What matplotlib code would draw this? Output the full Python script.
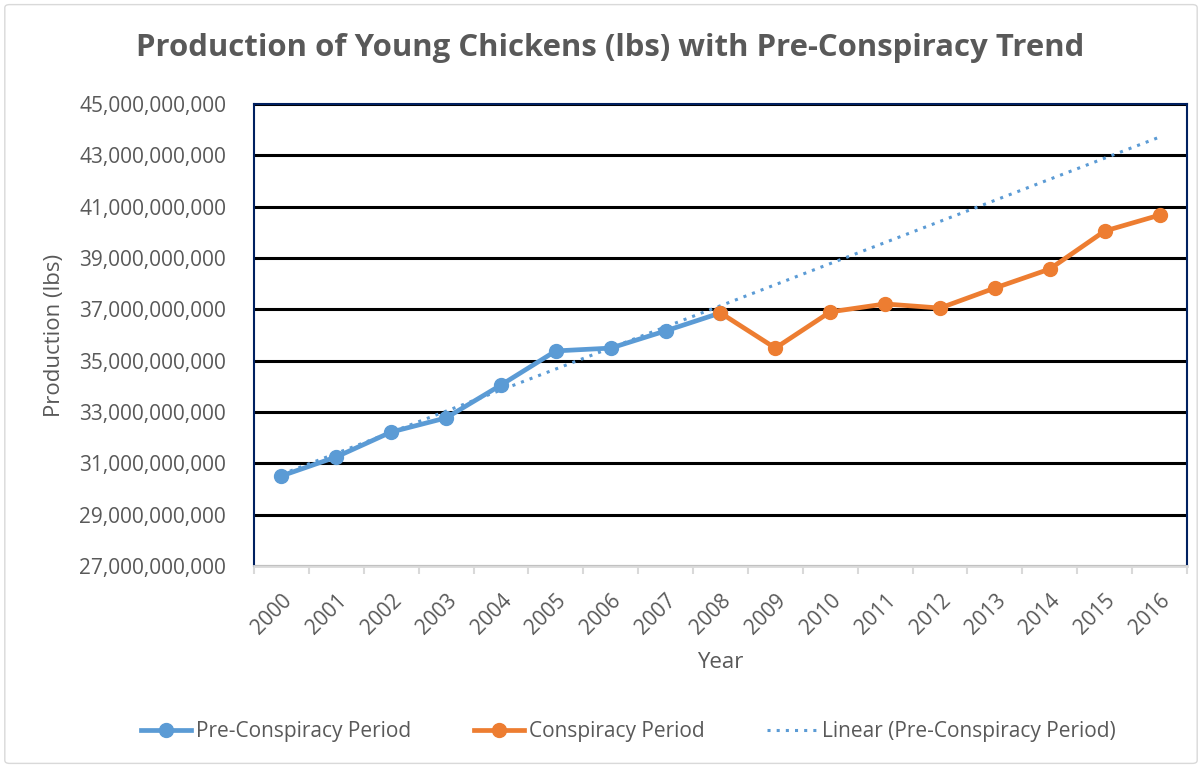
import numpy as np
import matplotlib.pyplot as plt
from matplotlib.patches import FancyBboxPatch
from matplotlib.ticker import FuncFormatter, FixedLocator

# Dados (lbs)
anos = [str(a) for a in range(2000, 2017)]
pre_anos = anos[:9]
pre_vals = [30.51e9, 31.25e9, 32.22e9, 32.77e9, 34.05e9, 35.38e9, 35.49e9, 36.16e9, 36.86e9]
conl_anos = anos[8:]
conl_vals = [36.86e9, 35.49e9, 36.90e9, 37.21e9, 37.05e9, 37.83e9, 38.57e9, 40.05e9, 40.67e9]

azul = "#5B9BD5"
laranja = "#ED7D31"
cinza = "#595959"
plt.rcParams['font.family'] = ['Open Sans', 'DejaVu Sans']

fig = plt.figure(figsize=(12.02, 7.68), dpi=100)
ax = fig.add_axes([0.2113, 0.263, 0.7762, 0.6016])

x_pre = np.array([anos.index(a) for a in pre_anos])
x_con = np.array([anos.index(a) for a in conl_anos])
x_all = np.arange(len(anos))

# tendência linear do período pré-conspiração
coef = np.polyfit(x_pre, pre_vals, 1)
tend = np.polyval(coef, x_all)

ax.plot(x_pre, pre_vals, color=azul, lw=3.4, marker='o', markersize=10,
        label='Pre-Conspiracy Period', zorder=4)
ax.plot(x_con, conl_vals, color=laranja, lw=3.4, marker='o', markersize=10,
        label='Conspiracy Period', zorder=4)
ax.plot(x_all, tend, color=azul, lw=2.2, linestyle=(0, (1, 2)),
        label='Linear (Pre-Conspiracy Period)', zorder=3)

ax.set_xlim(-0.5, len(anos) - 0.5)
ax.set_ylim(27e9, 45e9)
ax.set_yticks(np.arange(27e9, 45.1e9, 2e9))
ax.yaxis.set_major_formatter(FuncFormatter(lambda v, p: f"{v:,.0f}"))
ax.tick_params(axis='y', length=0, labelsize=15, labelcolor=cinza, pad=20)

ax.set_xticks(x_all)
ax.set_xticklabels(anos, rotation=45, ha='right', va='top', rotation_mode='anchor')
ax.tick_params(axis='x', which='major', length=0, labelsize=15, labelcolor=cinza, pad=17)
ax.xaxis.set_minor_locator(FixedLocator(np.arange(-0.5, len(anos), 1)))
ax.tick_params(axis='x', which='minor', length=6, width=1.5, color='#D9D9D9')

ax.grid(axis='y', color='black', lw=2.2)
ax.set_axisbelow(True)
for lado in ['left', 'right', 'top']:
    ax.spines[lado].set_color('#002060')
    ax.spines[lado].set_linewidth(1.5)
ax.spines['bottom'].set_color('#D9D9D9')
ax.spines['bottom'].set_linewidth(2)

ax.set_xlabel("Year", fontsize=16, color=cinza, labelpad=10)
ax.set_ylabel("Production (lbs)", fontsize=16, color=cinza, labelpad=10)
fig.text(0.508, 0.937, "Production of Young Chickens (lbs) with Pre-Conspiracy Trend",
         ha='center', va='center', fontsize=22.4, fontweight='bold', color=cinza)

leg = fig.legend(loc='center', bbox_to_anchor=(0.523, 0.047), ncol=3, frameon=False,
                 fontsize=15, handlelength=2.4, columnspacing=3.0, handletextpad=0.25)
for t in leg.get_texts():
    t.set_color(cinza)

borda = FancyBboxPatch((0.004, 0.006), 0.992, 0.988, boxstyle="round,pad=0,rounding_size=0.004",
                       transform=fig.transFigure, fill=False, edgecolor='#D9D9D9', lw=1)
fig.patches.append(borda)

plt.savefig("out.png", dpi=100)
plt.close()
